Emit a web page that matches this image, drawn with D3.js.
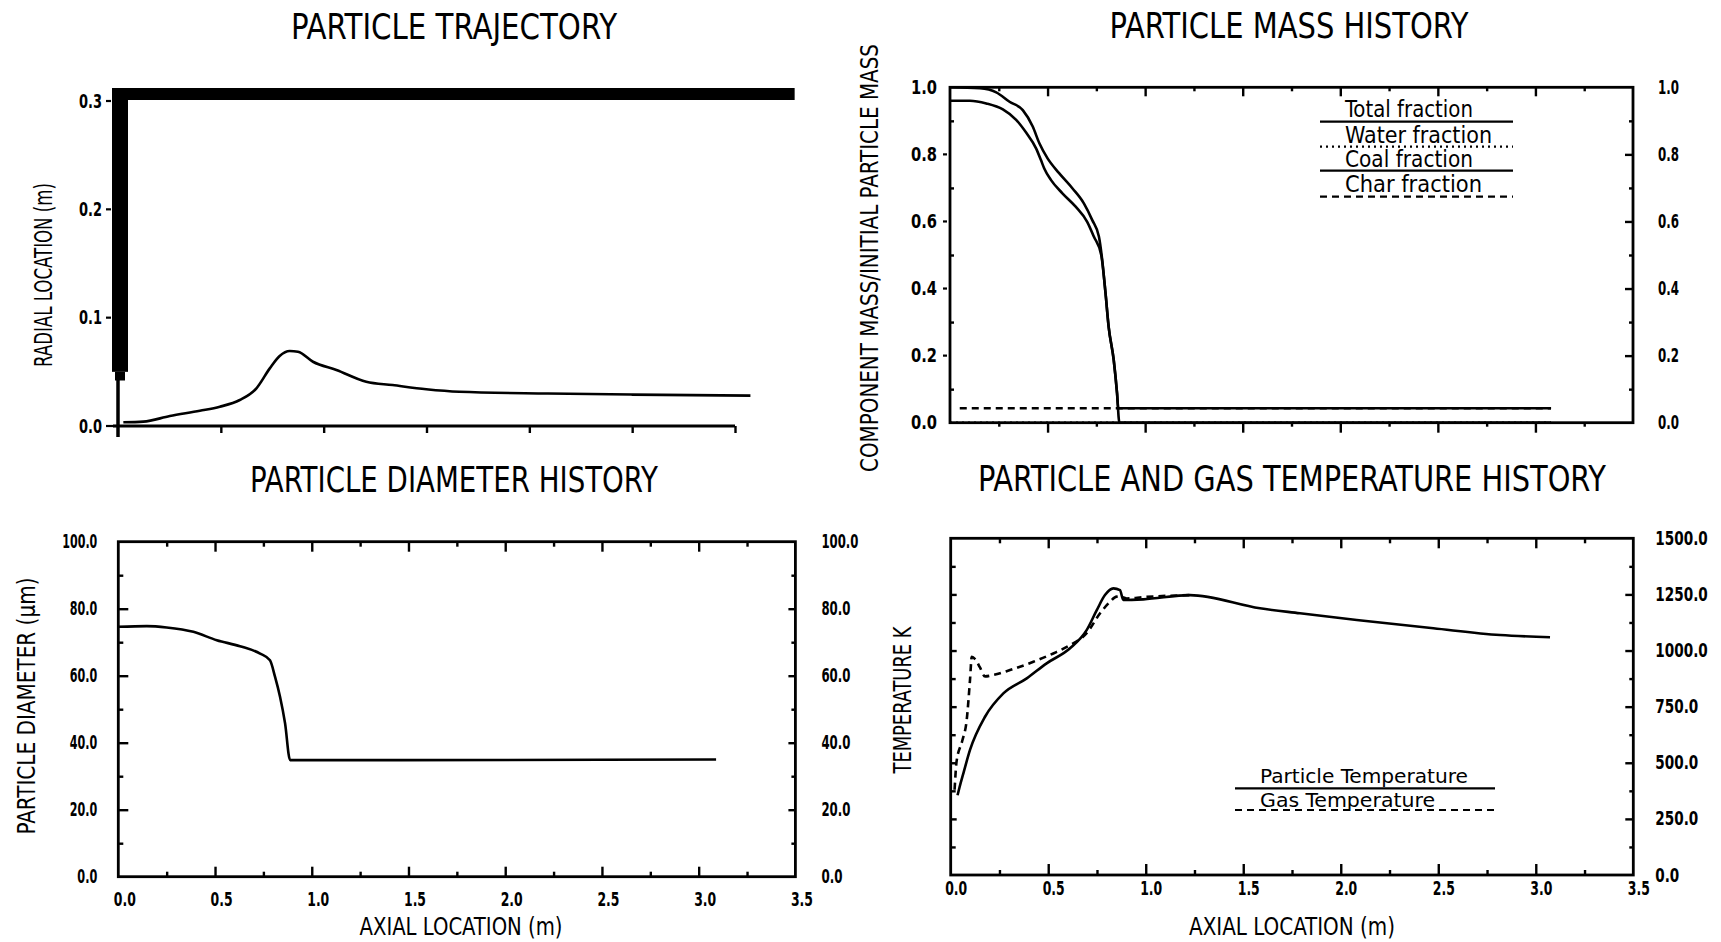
<!DOCTYPE html>
<html>
<head>
<meta charset="utf-8">
<script src="https://cdn.jsdelivr.net/npm/d3@7"></script>
<style>
  html, body { margin: 0; padding: 0; background: #fff; }
  svg text { font-family: "Liberation Sans Narrow", "DejaVu Sans Condensed", "Arial Narrow", sans-serif; fill: #000; }
</style>
</head>
<body>
<svg id="fig" width="1721" height="942"></svg>
<script>
// ---------- tick values ----------
const axialMajor = [0.0, 0.5, 1.0, 1.5, 2.0, 2.5, 3.0, 3.5];
const axialMinor = [0.25, 0.75, 1.25, 1.75, 2.25, 2.75, 3.25];
const radialTicks = [0.0, 0.1, 0.2, 0.3];
const massTicks = [0.0, 0.2, 0.4, 0.6, 0.8, 1.0];
const massMinor = [0.1, 0.3, 0.5, 0.7, 0.9];
const diamTicks = [0, 20, 40, 60, 80, 100];
const diamMinor = [10, 30, 50, 70, 90];
const tempTicks = [0, 250, 500, 750, 1000, 1250, 1500];
const tempMinor = [125, 375, 625, 875, 1125, 1375];

// ---------- series: [axial location (m), value] ----------
const trajectory = [[0.026,0.0034],[0.123,0.0040],[0.252,0.0092],[0.398,0.0141],[0.495,0.0178],[0.592,0.0240],
  [0.673,0.0348],[0.738,0.0532],[0.786,0.0646],[0.835,0.0692],[0.875,0.0685],[0.948,0.0593],[1.062,0.0517],
  [1.207,0.0409],[1.335,0.0378],[1.499,0.0339],[1.660,0.0316],[2.090,0.0300],[2.500,0.0290],[3.075,0.0280]];

const massTotal = [[0,1.000],[0.153,0.997],[0.237,0.985],[0.305,0.957],[0.373,0.932],[0.424,0.883],[0.458,0.833],
  [0.500,0.788],[0.559,0.744],[0.627,0.699],[0.686,0.654],[0.729,0.604],[0.763,0.555],[0.780,0.485],[0.797,0.386],
  [0.813,0.286],[0.839,0.187],[0.856,0.088],[0.862,0.043],[1.500,0.043],[3.080,0.043]];
const massWater = [[0,0.0],[3.080,0.0]];
const massCoal = [[0,0.960],[0.102,0.960],[0.186,0.952],[0.271,0.934],[0.339,0.903],[0.390,0.865],[0.441,0.818],
  [0.466,0.783],[0.483,0.758],[0.517,0.724],[0.576,0.684],[0.644,0.644],[0.703,0.599],[0.737,0.555],[0.775,0.500],
  [0.797,0.386],[0.813,0.286],[0.839,0.187],[0.856,0.088],[0.868,0.0],[3.080,0.0]];
const massChar = [[0.050,0.043],[3.080,0.043]];

const diameter = [[0,74.6],[0.147,74.8],[0.250,74.4],[0.388,73.1],[0.509,70.6],[0.629,68.8],[0.733,66.6],
  [0.784,64.6],[0.810,59.7],[0.836,53.7],[0.862,45.8],[0.888,34.8],[1.456,34.8],[2.500,34.9],[3.090,35.0]];

const tempParticle = [[0.035,355],[0.045,390],[0.065,453],[0.099,557],[0.176,705],[0.270,809],[0.390,876],
  [0.492,943],[0.612,1010],[0.697,1091],[0.749,1180],[0.791,1247],[0.834,1277],[0.868,1269],[0.885,1225],
  [0.988,1228],[1.227,1247],[1.586,1188],[1.791,1166],[2.082,1136],[2.475,1099],[2.817,1069],[3.073,1059]];
const tempGas = [[0.020,380],[0.030,505],[0.060,600],[0.082,690],[0.099,869],[0.108,972],[0.125,962],
  [0.150,925],[0.176,885],[0.218,891],[0.304,913],[0.424,950],[0.526,987],[0.612,1024],[0.697,1077],
  [0.766,1166],[0.817,1217],[0.851,1240],[0.880,1238],[0.903,1232],[0.988,1238],[1.227,1247]];

const massLegend = ["Total fraction", "Water fraction", "Coal fraction", "Char fraction"];
const tempLegend = ["Particle Temperature", "Gas Temperature"];

// ---------- shared drawing helpers ----------
const svg = d3.select("#fig");
const INK = "#000";
const AXIS_W = 2.8;
const CURVE_W = 2.6;
const fmt1 = d3.format(".1f");

function text(g, x, y, str, size, len, opts = {}) {
  const t = g.append("text")
    .attr("x", x).attr("y", y)
    .attr("font-size", size)
    .attr("text-anchor", opts.anchor || "middle")
    .attr("font-weight", opts.weight || "normal")
    .text(str);
  if (len) t.attr("textLength", len).attr("lengthAdjust", "spacingAndGlyphs");
  if (opts.rotate) t.attr("dominant-baseline", "central").attr("transform", `rotate(-90 ${x} ${y})`);
  return t;
}

// condensed numeric tick labels: width follows digit count
function styleAxis(sel, opts = {}) {
  sel.select(".domain").remove();
  sel.selectAll(".tick line").attr("stroke", INK).attr("stroke-width", opts.tw || 2.4);
  const labels = sel.selectAll(".tick text")
    .attr("fill", INK)
    .attr("font-size", 19)
    .attr("font-weight", "bold");
  if (opts.dx) labels.attr("dx", opts.dx);
  if (opts.digit) {
    labels.each(function () {
      const s = this.textContent;
      const digits = s.replace(".", "").length;
      d3.select(this)
        .attr("textLength", digits * opts.digit + (s.includes(".") ? 5 : 0))
        .attr("lengthAdjust", "spacingAndGlyphs");
    });
  }
  return sel;
}

function tickAxis(g, gen, tx, ty, opts) {
  return styleAxis(g.append("g").attr("transform", `translate(${tx},${ty})`).call(gen), opts);
}

function frame(g, x, y) {
  g.append("rect")
    .attr("x", x.range()[0]).attr("y", y.range()[1])
    .attr("width", x.range()[1] - x.range()[0])
    .attr("height", y.range()[0] - y.range()[1])
    .attr("fill", "none").attr("stroke", INK).attr("stroke-width", AXIS_W);
}

function curve(g, x, y, data, dash) {
  const line = d3.line().x(d => x(d[0])).y(d => y(d[1])).curve(d3.curveMonotoneX);
  const p = g.append("path").datum(data)
    .attr("d", line)
    .attr("fill", "none").attr("stroke", INK)
    .attr("stroke-width", CURVE_W)
    .attr("stroke-linejoin", "round").attr("stroke-linecap", "butt");
  if (dash) p.attr("stroke-dasharray", dash);
  return p;
}

// ================= PARTICLE TRAJECTORY =================
{
  const g = svg.append("g");
  const x = d3.scaleLinear().domain([0, 3]).range([118, 735]);
  const y = d3.scaleLinear().domain([0, 0.3]).range([426, 101]);

  text(g, 454, 39, "PARTICLE TRAJECTORY", 36, 326);
  text(g, 44, 275, "RADIAL LOCATION (m)", 24, 184, { rotate: true });

  // heavy wall at the top and along the inlet side
  const wallTop = y(0.3) - 13;
  g.append("rect").attr("x", 112).attr("y", wallTop)
    .attr("width", x(3.29) - 112).attr("height", 12).attr("fill", INK);
  g.append("rect").attr("x", 112).attr("y", wallTop)
    .attr("width", 16).attr("height", y(0.05) - wallTop).attr("fill", INK);
  g.append("rect").attr("x", 115).attr("y", y(0.05))
    .attr("width", 10).attr("height", y(0.042) - y(0.05)).attr("fill", INK);

  // axes
  g.append("line").attr("x1", x(0)).attr("x2", x(0)).attr("y1", y(0.05)).attr("y2", y(0) + 11)
    .attr("stroke", INK).attr("stroke-width", 3.5);
  g.append("line").attr("x1", x(0) - 5).attr("x2", x(3)).attr("y1", y(0)).attr("y2", y(0))
    .attr("stroke", INK).attr("stroke-width", AXIS_W);
  tickAxis(g, d3.axisBottom(x).tickValues(axialMajor.filter(v => v > 0 && v <= 3))
    .tickSize(7).tickSizeOuter(0).tickFormat(""), 0, y(0));
  tickAxis(g, d3.axisLeft(y).tickValues(radialTicks).tickSize(0).tickPadding(16).tickFormat(fmt1),
    x(0), 0, { digit: 9 });
  g.selectAll(null).data(radialTicks).join("line")
    .attr("x1", 106).attr("x2", d => d === 0 ? 116 : 111)
    .attr("y1", d => y(d)).attr("y2", d => y(d))
    .attr("stroke", INK).attr("stroke-width", 2.2);

  curve(g, x, y, trajectory);
}

// ================= PARTICLE MASS HISTORY =================
{
  const g = svg.append("g");
  const x = d3.scaleLinear().domain([0, 3.5]).range([950, 1633]);
  const y = d3.scaleLinear().domain([0, 1]).range([422.7, 87.3]);

  text(g, 1289, 38, "PARTICLE MASS HISTORY", 36, 359);
  text(g, 870, 258, "COMPONENT MASS/INITIAL PARTICLE MASS", 24, 428, { rotate: true });

  frame(g, x, y);
  const inner = axialMajor.filter(v => v > 0 && v < 3.5);
  tickAxis(g, d3.axisBottom(x).tickValues(inner).tickSize(10).tickFormat(""), 0, y(0));
  tickAxis(g, d3.axisBottom(x).tickValues(axialMinor).tickSize(4).tickFormat(""), 0, y(0));
  tickAxis(g, d3.axisTop(x).tickValues(inner).tickSize(-9).tickFormat(""), 0, y(1));
  tickAxis(g, d3.axisTop(x).tickValues(axialMinor).tickSize(-4).tickFormat(""), 0, y(1));
  tickAxis(g, d3.axisLeft(y).tickValues(massTicks).tickSize(0).tickPadding(13).tickFormat(fmt1),
    x(0), 0, { digit: 10.5 });
  g.selectAll(null).data(massTicks.filter(v => v > 0 && v < 1)).join("line")
    .attr("x1", x(0) - 7).attr("x2", x(0) - 3).attr("y1", d => y(d)).attr("y2", d => y(d))
    .attr("stroke", INK).attr("stroke-width", 2.2);
  tickAxis(g, d3.axisLeft(y).tickValues(massMinor).tickSize(-4).tickFormat(""), x(0), 0);
  tickAxis(g, d3.axisRight(y).tickValues(massTicks.filter(v => v > 0 && v < 1)).tickSize(-8).tickFormat(""), x(3.5), 0);
  tickAxis(g, d3.axisRight(y).tickValues(massMinor).tickSize(-4).tickFormat(""), x(3.5), 0);
  const r = tickAxis(g, d3.axisRight(y).tickValues(massTicks).tickSize(0).tickPadding(25).tickFormat(fmt1),
    x(3.5), 0, { digit: 8 });
  r.selectAll(".tick line").remove();

  curve(g, x, y, massWater, "2,4");
  curve(g, x, y, massChar, "7,5");
  curve(g, x, y, massCoal);
  curve(g, x, y, massTotal);

  // key
  const dashes = [null, "2,4", null, "7,5"];
  const textY = [116.7, 143.3, 167.3, 191.7];
  const lineY = [121.7, 146.7, 170.7, 196.7];
  const widths = [128, 147, 128, 137];
  massLegend.forEach((name, i) => {
    text(g, 1345, textY[i], name, 23, widths[i], { anchor: "start" });
    const l = g.append("line").attr("x1", 1320).attr("x2", 1513)
      .attr("y1", lineY[i]).attr("y2", lineY[i])
      .attr("stroke", INK).attr("stroke-width", 2.2);
    if (dashes[i]) l.attr("stroke-dasharray", dashes[i]);
  });
}

// ================= PARTICLE DIAMETER HISTORY =================
{
  const g = svg.append("g");
  const x = d3.scaleLinear().domain([0, 3.5]).range([118.3, 795.4]);
  const y = d3.scaleLinear().domain([0, 100]).range([876.7, 541.7]);

  text(g, 454, 492, "PARTICLE DIAMETER HISTORY", 36, 408);
  text(g, 27, 706, "PARTICLE DIAMETER (\u03BCm)", 24, 257, { rotate: true });
  text(g, 461, 935, "AXIAL LOCATION (m)", 24, 203);

  frame(g, x, y);
  const inner = axialMajor.filter(v => v > 0 && v < 3.5);
  const b = tickAxis(g, d3.axisBottom(x).tickValues(axialMajor).tickSize(-10).tickPadding(16).tickFormat(fmt1),
    0, y(0), { dx: 6, digit: 8.5 });
  b.selectAll(".tick").filter(d => d === 0 || d === 3.5).select("line").remove();
  tickAxis(g, d3.axisBottom(x).tickValues(axialMinor).tickSize(-5).tickFormat(""), 0, y(0));
  tickAxis(g, d3.axisTop(x).tickValues(inner).tickSize(-10).tickFormat(""), 0, y(100));
  tickAxis(g, d3.axisTop(x).tickValues(axialMinor).tickSize(-5).tickFormat(""), 0, y(100));
  const l = tickAxis(g, d3.axisLeft(y).tickValues(diamTicks).tickSize(-10).tickPadding(21).tickFormat(fmt1),
    x(0), 0, { digit: 7.5 });
  l.selectAll(".tick").filter(d => d === 0 || d === 100).select("line").remove();
  tickAxis(g, d3.axisLeft(y).tickValues(diamMinor).tickSize(-5).tickFormat(""), x(0), 0);
  const r = tickAxis(g, d3.axisRight(y).tickValues(diamTicks).tickSize(-7).tickPadding(26).tickFormat(fmt1),
    x(3.5), 0, { digit: 8 });
  r.selectAll(".tick").filter(d => d === 0 || d === 100).select("line").remove();
  tickAxis(g, d3.axisRight(y).tickValues(diamMinor).tickSize(-4).tickFormat(""), x(3.5), 0);

  curve(g, x, y, diameter);
}

// ================= PARTICLE AND GAS TEMPERATURE HISTORY =================
{
  const g = svg.append("g");
  const x = d3.scaleLinear().domain([0, 3.5]).range([950.7, 1633.3]);
  const y = d3.scaleLinear().domain([0, 1500]).range([875, 538.3]);

  text(g, 1292, 491, "PARTICLE AND GAS TEMPERATURE HISTORY", 36, 628);
  text(g, 903, 700, "TEMPERATURE K", 24, 147, { rotate: true });
  text(g, 1292, 935, "AXIAL LOCATION (m)", 24, 206);

  frame(g, x, y);
  const inner = axialMajor.filter(v => v > 0 && v < 3.5);
  const b = tickAxis(g, d3.axisBottom(x).tickValues(axialMajor).tickSize(-11).tickPadding(7).tickFormat(fmt1),
    0, y(0), { dx: 5, digit: 8.5 });
  b.selectAll(".tick").filter(d => d === 0 || d === 3.5).select("line").remove();
  tickAxis(g, d3.axisBottom(x).tickValues(axialMinor).tickSize(-5).tickFormat(""), 0, y(0));
  tickAxis(g, d3.axisTop(x).tickValues(inner).tickSize(-10).tickFormat(""), 0, y(1500));
  tickAxis(g, d3.axisTop(x).tickValues(axialMinor).tickSize(-5).tickFormat(""), 0, y(1500));
  tickAxis(g, d3.axisLeft(y).tickValues(tempTicks.filter(v => v > 0 && v < 1500)).tickSize(-6).tickFormat(""), x(0), 0);
  tickAxis(g, d3.axisLeft(y).tickValues(tempMinor).tickSize(-5).tickFormat(""), x(0), 0);
  const r = tickAxis(g, d3.axisRight(y).tickValues(tempTicks).tickSize(-8).tickPadding(22).tickFormat(fmt1),
    x(3.5), 0, { digit: 9.5 });
  r.selectAll(".tick").filter(d => d === 0 || d === 1500).select("line").remove();
  tickAxis(g, d3.axisRight(y).tickValues(tempMinor).tickSize(-4).tickFormat(""), x(3.5), 0);

  curve(g, x, y, tempGas, "7,5");
  curve(g, x, y, tempParticle);

  // key
  const dashes = [null, "7,5"];
  const textY = [783, 806.5];
  const lineY = [788.3, 810];
  const widths = [208, 175];
  tempLegend.forEach((name, i) => {
    text(g, 1260, textY[i], name, 20, widths[i], { anchor: "start" });
    const l = g.append("line").attr("x1", 1235).attr("x2", 1495)
      .attr("y1", lineY[i]).attr("y2", lineY[i])
      .attr("stroke", INK).attr("stroke-width", 2.2);
    if (dashes[i]) l.attr("stroke-dasharray", dashes[i]);
  });
}
</script>
</body>
</html>
